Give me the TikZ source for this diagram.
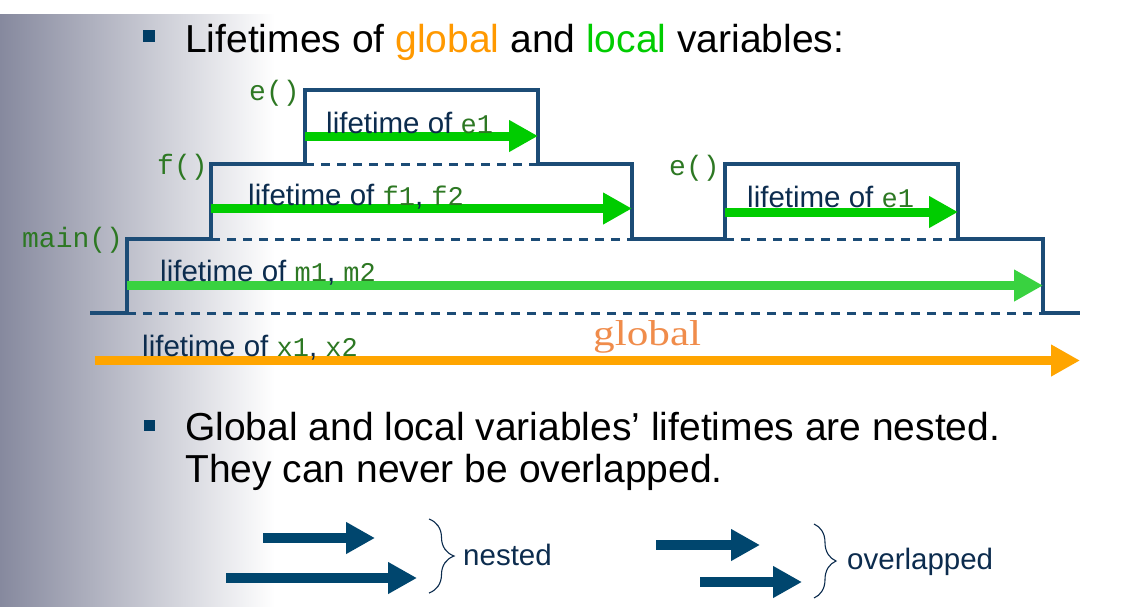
\documentclass[tikz,border=0pt]{standalone}
\usepackage{fontspec}
\setmainfont{Liberation Sans}
\newfontfamily\codefont{Liberation Mono}
\newfontfamily\globfont[FakeStretch=1.2]{Liberation Serif}
\usetikzlibrary{arrows.meta,decorations.pathreplacing}
\definecolor{outl}{RGB}{28,76,118}
\definecolor{navy}{RGB}{12,44,78}
\definecolor{codegreen}{RGB}{45,120,35}
\definecolor{garrow}{RGB}{0,204,0}
\definecolor{marrow}{RGB}{57,210,64}
\definecolor{oarrow}{RGB}{255,165,0}
\definecolor{barrow}{RGB}{0,70,110}
\definecolor{globtext}{RGB}{240,140,75}
\definecolor{titleor}{RGB}{255,153,0}
\definecolor{titlegr}{RGB}{0,204,0}
\definecolor{bgl}{RGB}{134,137,158}
\definecolor{bgm}{RGB}{200,202,214}
\definecolor{bulletc}{RGB}{0,60,100}
\newcommand\mycode[1]{{\codefont\fontsize{27}{30}\selectfont\color{codegreen}#1}}
\tikzset{
  outline/.style={draw=outl, line width=3.2pt},
  dashline/.style={draw=outl, line width=3pt, dash pattern=on 9pt off 7pt},
  life/.style={line width=9pt, -{Triangle[length=29pt,width=30pt]}},
  bigarrow/.style={draw=barrow, line width=10pt, -{Triangle[length=29pt,width=30pt]}},
  lbl/.style={inner sep=0pt, anchor=base west, text=navy, font=\fontsize{29.5}{32}\selectfont},
  fnlbl/.style={inner sep=0pt, anchor=base west, text=codegreen, font=\codefont\fontsize{28}{30}\selectfont},
  bigtext/.style={inner sep=0pt, anchor=base west, text=black, font=\fontsize{39}{44}\selectfont},
  bulletsq/.style={fill=bulletc},
  bracestyle/.style={draw=navy, line width=1.1pt, decorate},
}
\begin{document}
\begin{tikzpicture}[x=1pt,y=-1pt]
\useasboundingbox (0,0) rectangle (1146,606);
\fill[white] (0,0) rectangle (1146,606);
\shade[left color=bgl, middle color=bgm, right color=white] (0,14) rectangle (275,606);

% title
\fill[bulletsq] (143,30) rectangle (155,42);
\node[bigtext] (title) at (185,52) {Lifetimes of \textcolor{titleor}{global} and \textcolor{titlegr}{local} variables:};

% coordinates of the staircase outline
\coordinate (b0) at (90,313);
\coordinate (m0) at (127,313);
\coordinate (m1) at (127,239);
\coordinate (f0) at (211,239);
\coordinate (f1) at (211,164);
\coordinate (e0) at (305,164);
\coordinate (e1) at (305,90);
\coordinate (e2) at (538,90);
\coordinate (e3) at (538,164);
\coordinate (f2) at (632,164);
\coordinate (f3) at (632,239);
\coordinate (g0) at (725,239);
\coordinate (g1) at (725,164);
\coordinate (g2) at (958,164);
\coordinate (g3) at (958,239);
\coordinate (m2) at (1043,239);
\coordinate (m3) at (1043,313);
\coordinate (b1) at (1080,313);

\draw[outline] (b0) -- (m0) -- (m1) -- (f0) -- (f1) -- (e0) -- (e1) -- (e2) -- (e3) -- (f2) -- (f3) -- (g0) -- (g1) -- (g2) -- (g3) -- (m2) -- (m3) -- (b1);
\draw[dashline] (m0) -- (m3);
\draw[dashline] (f0) -- (f3);
\draw[dashline] (e0) -- (e3);
\draw[dashline] (g0) -- (g3);

% function labels
\node[fnlbl] (le) at (249,100) {e()};
\node[fnlbl] (lf) at (157,174) {f()};
\node[fnlbl] (lg) at (669,175) {e()};
\node[fnlbl] (lm) at (22,247) {main()};

% lifetime arrows
\coordinate (ae0) at (305,136);
\coordinate (ae1) at (538,136);
\coordinate (af0) at (211,208.5);
\coordinate (af1) at (632,208.5);
\coordinate (ag0) at (725,212);
\coordinate (ag1) at (958,212);
\coordinate (am0) at (127,285.5);
\coordinate (am1) at (1043,285.5);
\coordinate (ax0) at (95,360.5);
\coordinate (ax1) at (1080,360.5);

\draw[life, draw=garrow, garrow] (ae0) -- (ae1);
\draw[life, draw=garrow, garrow] (af0) -- (af1);
\draw[life, draw=garrow, garrow] (ag0) -- (ag1);
\draw[life, draw=marrow, marrow] (am0) -- (am1);
\draw[life, draw=oarrow, oarrow] (ax0) -- (ax1);

% lifetime labels
\node[lbl] (te) at (326,133) {lifetime of \mycode{e1}};
\node[lbl] (tf) at (248,205) {lifetime of \mycode{f1}, \mycode{f2}};
\node[lbl] (tg) at (747,207) {lifetime of \mycode{e1}};
\node[lbl] (tm) at (160,281) {lifetime of \mycode{m1}, \mycode{m2}};
\node[lbl] (tx) at (142,356) {lifetime of \mycode{x1}, \mycode{x2}};
\node[inner sep=0pt, anchor=base west, text=globtext, font=\globfont\fontsize{36}{38}\selectfont] (glob) at (593,345) {global};

% second bullet
\fill[bulletsq] (144,420) rectangle (155,431);
\node[bigtext] (s1) at (185,440) {Global and local variables’ lifetimes are nested.};
\node[bigtext] (s2) at (185,482) {They can never be overlapped.};

% nested / overlapped examples
\coordinate (n1a) at (263,538);
\coordinate (n1b) at (375,538);
\coordinate (n2a) at (226,578);
\coordinate (n2b) at (417,578);
\coordinate (o1a) at (656,545);
\coordinate (o1b) at (760,545);
\coordinate (o2a) at (700,582);
\coordinate (o2b) at (802,582);
\draw[bigarrow] (n1a) -- (n1b);
\draw[bigarrow] (n2a) -- (n2b);
\draw[bigarrow] (o1a) -- (o1b);
\draw[bigarrow] (o2a) -- (o2b);

\coordinate (nbt) at (429,519);
\coordinate (nbb) at (429,593);
\coordinate (obt) at (814,524);
\coordinate (obb) at (814,598);
\draw[bracestyle, decoration={brace, amplitude=25pt}] (nbt) -- (nbb);
\draw[bracestyle, decoration={brace, amplitude=22pt}] (obt) -- (obb);
\node[lbl] (tnest) at (463,565) {nested};
\node[lbl] (tover) at (847,569) {overlapped};
\end{tikzpicture}
\end{document}
